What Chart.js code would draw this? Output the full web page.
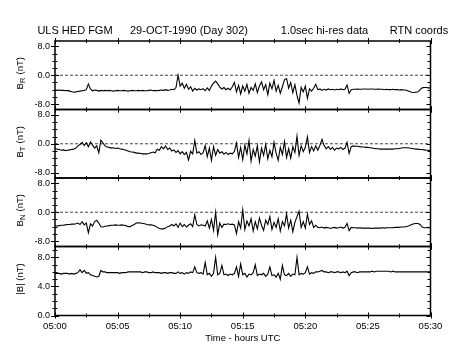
<!DOCTYPE html>
<html><head><meta charset="utf-8">
<script src="https://cdn.jsdelivr.net/npm/chart.js@4/dist/chart.umd.min.js"></script>
<style>
html,body{margin:0;padding:0;background:#fff;}
#wrap{position:relative;width:459px;height:352px;overflow:hidden;background:#fff;}
canvas{position:absolute;left:0;top:0;}
</style></head><body>
<div id="wrap">
<canvas id="c0" width="459" height="352"></canvas>
<canvas id="c1" width="459" height="352"></canvas>
<canvas id="c2" width="459" height="352"></canvas>
<canvas id="c3" width="459" height="352"></canvas>
</div>
<script>
// ---------- text ----------
const titleParts = ['ULS HED FGM', '29-OCT-1990 (Day 302)', '1.0sec hi-res data', 'RTN coords'];
const timeTickLabels = ['05:00', '05:05', '05:10', '05:15', '05:20', '05:25', '05:30'];
const xAxisTitle = 'Time - hours UTC';
const sampleStepMinutes = 10 / 60; // values read every 10 s from 05:00

// ---------- values (nT) ----------
const bR = [
 -4.1,-4.2,-4.1,-4.2,-4.2,-4.3,-4.2,-4.4,-4.6,-4.7,-4.6,
 -4.5,-4.4,-4.3,-4.2,-4.0,-2.4,-3.8,-4.3,-4.1,-4.2,-4.4,-4.2,
 -4.3,-4.2,-4.3,-4.2,-4.3,-4.4,-4.3,-4.2,-4.3,-4.3,-4.2,-4.3,-4.4,-4.3,-4.2,-4.3,-4.3,-4.2,
 -4.3,-4.2,-4.3,-4.3,-4.2,-4.1,-4.3,-4.2,-4.3,-4.2,-4.1,-4.2,-4.0,-4.2,-4.1,-3.9,-4.0,
 -3.4,0.0,-3.0,-2.2,-3.6,-2.5,-3.9,-3.2,-4.4,-3.6,-4.1,-3.8,-4.0,-3.7,-4.3,-3.5,-4.2,-3.0,-2.2,-1.6,-2.4,-3.3,-3.8,
 -3.4,-4.0,-3.6,-4.1,-3.2,-2.0,-4.6,-2.8,-5.2,-3.0,-4.4,-2.5,-5.0,-3.4,-4.2,-2.4,-4.8,-3.0,-1.8,-4.0,
 -2.6,-5.4,-2.2,-3.8,-1.4,-4.4,-2.8,-5.0,-3.2,-1.2,-0.9,-3.6,-2.0,-4.8,-2.6,-5.6,-7.7,-3.4,-4.6,-3.0,-6.4,-3.8,-4.4,-3.6,
 -2.5,-4.0,-3.8,-4.2,-3.9,-4.1,-3.8,-4.0,-3.9,-4.1,-3.9,-4.0,-3.8,-4.0,-3.9,-2.7,-5.0,-4.0,-3.9,
 -3.9,-3.8,-3.9,-3.9,-3.8,-3.8,-3.9,-3.8,-3.8,-3.9,-3.9,-3.8,-3.9,-3.9,-4.0,-3.9,-4.0,-4.0,-3.9,-4.0,-4.0,-4.1,-4.0,-4.1,-4.1,
 -4.3,-4.5,-4.7,-4.8,-4.7,-4.6,-4.0,-3.5,-3.4,-3.4,-3.5,-3.5
];
const bT = [
 -1.3,-1.5,-1.6,-1.8,-1.7,-1.9,-1.8,-1.7,-1.6,-1.5,-1.2,
 -0.6,-0.2,0.4,-0.5,0.3,-0.8,0.5,-0.4,-1.2,-0.6,-2.5,1.0,0.2,-0.6,
 -0.9,-1.0,-1.2,-1.1,-1.3,-1.2,-1.4,-1.5,-1.6,-1.8,-2.0,-2.2,-2.3,-2.4,-2.6,-2.6,-2.7,-2.8,-2.8,-2.8,-2.7,-2.5,-2.3,-2.5,
 -1.5,-1.8,-0.8,-1.4,-0.6,-1.6,-1.2,-2.0,-1.7,-2.4,-1.9,-2.8,-2.2,-3.0,-2.4,-4.5,-2.1,-2.8,
 0.9,-2.6,-2.2,-3.0,-2.5,-0.5,-3.6,-1.2,-4.6,-0.8,-3.2,-1.6,-2.6,-2.2,-2.9,-2.4,-3.0,-2.6,-2.8,-2.1,
 0.2,-3.8,-1.0,-4.4,-0.4,-2.8,0.9,-4.8,-1.6,-3.4,-0.6,-5.0,-1.2,-3.2,-0.2,-4.2,-1.8,-3.6,0.4,-2.6,-4.6,-1.0,-3.0,0.6,
 -3.8,-1.4,-4.0,-0.8,-2.4,2.1,-3.2,-0.6,-2.2,-1.0,1.9,-2.4,-0.8,-2.0,-0.6,-1.8,-0.4,1.2,-0.5,-1.4,-0.8,-1.6,-1.0,-1.8,-1.2,-1.4,-1.0,-1.6,-1.2,
 0.4,-2.7,-0.8,-0.6,-0.7,-0.7,-0.8,-0.9,-0.9,-1.0,-1.0,-1.1,-1.2,-1.3,-1.4,-1.4,-1.5,-1.5,-1.5,-1.5,-1.5,-1.5,-1.5,-1.4,-1.4,-1.3,-1.2,-1.1,-1.1,-1.1,-1.2,-1.3,-1.4,-1.5,-1.5,-1.6,-1.6,-1.7,-1.8,-1.8,-1.9
];
const bN = [
 -3.8,-3.8,-3.7,-3.6,-3.6,-3.5,-3.4,-3.4,-3.3,-3.3,-3.2,
 -3.0,-3.4,-2.6,-3.5,-3.0,-5.7,-3.2,-3.8,-2.6,-2.2,-3.0,-4.0,
 -4.1,-3.9,-3.8,-3.7,-3.6,-3.6,-3.5,-3.6,-3.6,-3.5,-3.6,-3.7,-4.0,-4.0,-3.7,-3.4,-3.0,-2.9,-3.0,-3.1,-3.2,-3.4,-3.5,-3.5,-3.6,-3.8,
 -4.2,-4.5,-4.6,-4.6,-4.4,-4.0,-3.8,-3.4,-3.8,-3.2,-4.2,-3.0,-4.0,-3.4,-4.1,-3.6,-3.2,-4.0,
 -0.7,-3.4,-3.8,-3.5,-3.6,-3.8,-2.4,-4.4,-2.0,-5.0,0.0,-6.2,-3.0,-4.2,-3.3,-3.4,-3.2,-3.4,-3.3,-3.5,
 -5.9,-2.6,-4.4,0.7,-4.8,-2.4,-3.8,-1.8,-5.2,-2.6,-4.6,-1.6,-3.6,-5.0,-2.2,-3.4,-1.2,-4.8,-2.8,-4.2,-1.8,-5.2,-2.6,-3.8,
 -0.5,-4.4,-2.2,-5.4,-2.8,-1.2,0.3,-4.2,-2.6,-4.4,-0.6,-3.4,-2.4,-4.2,-3.6,-4.2,-4.3,-4.1,-4.4,-4.2,-4.3,-4.5,-4.3,-4.2,-4.4,-4.3,-4.1,-4.4,-4.2,
 -3.1,-5.1,-4.2,-4.3,-4.3,-4.4,-4.3,-4.4,-4.4,-4.4,-4.4,-4.4,-4.5,-4.4,-4.4,-4.4,-4.4,-4.3,-4.4,-4.3,-4.3,-4.3,-4.3,-4.2,-4.2,-4.2,-4.1,-4.1,-4.0,-3.9,-3.7,-3.4,-3.2,-3.1,-3.1,-3.4,-4.1,-4.3,-4.3,-4.2,-4.3
];
const bMag = [
 5.8,5.8,5.8,5.7,5.8,5.8,5.8,5.7,5.8,5.7,5.8,
 5.9,6.3,5.9,6.2,5.8,5.9,5.6,5.5,5.4,5.3,5.4,6.2,
 6.0,6.0,5.9,5.9,5.9,5.9,5.9,5.9,5.8,5.9,5.9,5.9,6.0,6.0,6.0,6.0,6.0,6.0,6.0,5.9,6.0,6.0,5.9,5.9,6.0,5.9,5.9,5.9,5.8,5.9,5.9,5.8,5.9,5.9,5.8,
 5.8,6.0,5.8,5.9,5.7,5.9,5.8,6.0,5.9,6.7,5.9,5.8,5.9,5.7,7.3,5.6,5.8,5.4,5.8,8.0,5.6,5.8,6.9,
 5.6,5.7,5.5,5.7,5.6,5.8,6.7,5.4,7.1,5.6,5.8,5.3,5.7,5.6,5.9,7.0,5.5,5.7,5.6,5.8,
 5.4,5.7,6.7,5.5,5.6,5.3,5.8,5.0,6.9,5.6,5.5,5.8,5.4,5.7,5.6,8.0,5.6,5.8,5.7,5.9,6.7,5.7,5.9,5.8,
 6.0,6.0,6.1,6.2,6.0,6.0,5.9,6.0,6.0,5.9,6.0,6.0,5.9,6.0,5.9,6.1,5.5,5.9,6.0,6.0,5.9,6.0,6.0,6.0,6.0,6.0,6.0,6.1,6.0,6.1,6.1,6.1,6.1,6.1,6.1,6.1,6.0,6.1,6.0,6.0,6.0,6.0,6.0,6.0,6.0,6.0,6.0,6.0,6.0,6.0,6.0,6.0,6.0,6.0,6.0,6.0
];

// ---------- panel setup ----------
const panels = [
  { values: bR,   sym: 'B', sub: 'R', min: -9.5, max: 9.5, major: [-8, 0, 8], minorStep: 2, zero: true },
  { values: bT,   sym: 'B', sub: 'T', min: -9.5, max: 9.5, major: [-8, 0, 8], minorStep: 2, zero: true },
  { values: bN,   sym: 'B', sub: 'N', min: -9.5, max: 9.5, major: [-8, 0, 8], minorStep: 2, zero: true },
  { values: bMag, sym: '|B|', sub: '', min: 0, max: 9.5, major: [0, 4, 8], minorStep: 1, zero: false }
];

const W = 459, H = 352;
const plotLeft = 55, plotRight = 430.5;
const panelTops = [41, 109.5, 178, 246.5];
const plotBottom = 315.5;
const FONT = "'Liberation Sans', Arial, Helvetica, sans-serif";
Chart.defaults.font.family = FONT;
Chart.defaults.color = '#000';

const decorPlugin = {
  id: 'decor',
  afterDraw(chart) {
    const cfg = chart.options.plugins.decor;
    const { ctx, chartArea: a } = chart;
    const x = chart.scales.x, y = chart.scales.y;
    ctx.save();
    ctx.strokeStyle = '#000';
    ctx.lineWidth = 1.5;
    ctx.strokeRect(a.left, a.top, a.right - a.left, a.bottom - a.top);
    ctx.lineWidth = 1;
    const p = cfg.panel;
    ctx.beginPath();
    for (let v = Math.ceil(p.min / p.minorStep) * p.minorStep; v <= p.max + 1e-9; v += p.minorStep) {
      const py = Math.round(y.getPixelForValue(v)) + 0.5;
      const isMajor = p.major.includes(v);
      const l = isMajor ? 4 : 2.5;
      ctx.moveTo(a.left - l, py); ctx.lineTo(a.left + l, py);
      ctx.moveTo(a.right - (isMajor ? 4 : 3), py); ctx.lineTo(a.right, py);
    }
    for (let t = 0; t <= 30 + 1e-9; t += 2.5) {
      const px = Math.round(x.getPixelForValue(t)) + 0.5;
      const isMajor = (t % 5) === 0;
      const l = isMajor ? 3 : 2;
      ctx.moveTo(px, a.top - l); ctx.lineTo(px, a.top + l);
      ctx.moveTo(px, a.bottom - l); ctx.lineTo(px, a.bottom + l);
    }
    ctx.stroke();
    ctx.fillStyle = '#000';
    ctx.textBaseline = 'middle';
    const mainF = '9.5px ' + FONT, subF = '7.5px ' + FONT;
    ctx.font = mainF; const w1 = ctx.measureText(p.sym).width;
    ctx.font = subF; const w2 = p.sub ? ctx.measureText(p.sub).width + 0.5 : 0;
    ctx.font = mainF; const w3 = ctx.measureText(' (nT)').width;
    const total = w1 + w2 + w3;
    ctx.translate(20, (a.top + a.bottom) / 2 - 2);
    ctx.rotate(-Math.PI / 2);
    let cx = -total / 2;
    ctx.textAlign = 'left';
    ctx.font = mainF; ctx.fillText(p.sym, cx, 0); cx += w1;
    if (p.sub) { ctx.font = subF; ctx.fillText(p.sub, cx, 2.5); cx += w2; }
    ctx.font = mainF; ctx.fillText(' (nT)', cx, 0);
    ctx.restore();
    if (cfg.title) {
      ctx.save();
      ctx.fillStyle = '#000';
      ctx.font = '11px ' + FONT;
      ctx.textBaseline = 'middle';
      ctx.textAlign = 'center';
      const centers = [75, 189, 324.5, 419];
      titleParts.forEach((s, i) => ctx.fillText(s, centers[i], 30.5));
      ctx.restore();
    }
  }
};

panels.forEach((p, k) => {
  const isLast = k === panels.length - 1;
  const top = panelTops[k];
  const bottom = isLast ? plotBottom : panelTops[k + 1];
  const datasets = [{
    data: p.values.map((v, i) => ({ x: i * sampleStepMinutes, y: v })),
    borderColor: '#000', borderWidth: 1.1, pointRadius: 0, tension: 0, fill: false
  }];
  if (p.zero) {
    datasets.push({
      data: [{ x: 0, y: 0 }, { x: 30, y: 0 }],
      borderColor: '#333', borderWidth: 0.9, borderDash: [3, 2], pointRadius: 0, fill: false
    });
  }
  new Chart(document.getElementById('c' + k), {
    type: 'line',
    data: { datasets },
    options: {
      responsive: false, animation: false, events: [],
      layout: { padding: { left: 0, right: W - plotRight, top: top, bottom: isLast ? 0 : H - bottom } },
      plugins: { legend: { display: false }, tooltip: { enabled: false }, title: { display: false },
                 decor: { panel: p, title: k === 0 } },
      scales: {
        x: {
          type: 'linear', min: 0, max: 30, display: isLast,
          grid: { display: false, drawTicks: false }, border: { display: false },
          ticks: { stepSize: 5, padding: 5, autoSkip: false, maxRotation: 0,
                   font: { size: 9.5 }, color: '#000',
                   callback: (v, i) => timeTickLabels[i] },
          title: { display: true, text: xAxisTitle, color: '#000', font: { size: 9.5 },
                   padding: { top: 0, bottom: 8 } },
          afterFit: s => { s.height = isLast ? H - plotBottom : 0; }
        },
        y: {
          type: 'linear', min: p.min, max: p.max,
          grid: { display: false, drawTicks: false }, border: { display: false },
          afterBuildTicks: s => { s.ticks = p.major.map(v => ({ value: v })); },
          ticks: { padding: 5, font: { size: 9 }, color: '#000', callback: v => v.toFixed(1) },
          afterFit: s => { s.width = plotLeft; }
        }
      }
    },
    plugins: [decorPlugin]
  });
});
</script>
</body></html>
